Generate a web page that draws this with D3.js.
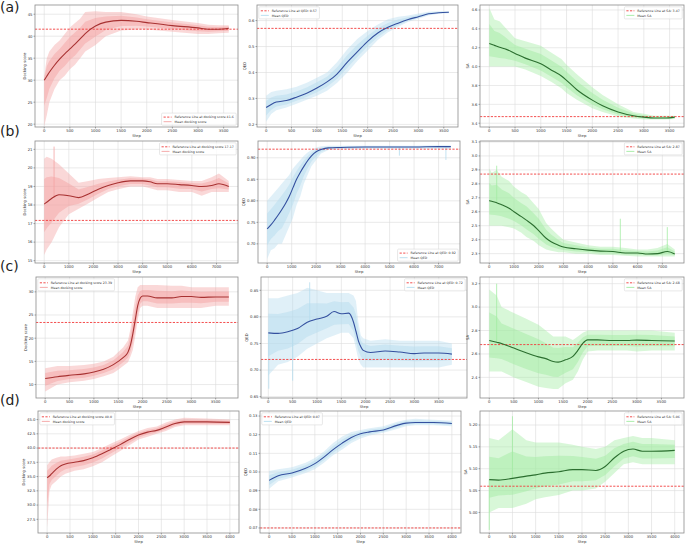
<!DOCTYPE html>
<html><head><meta charset="utf-8">
<script src="https://cdn.jsdelivr.net/npm/d3@7"></script>
<style>body{margin:0;background:#fff}svg{display:block}text{font-family:"DejaVu Sans",sans-serif}</style>
</head><body><svg id="c" width="685" height="546"></svg>
<script>
// ---------------- DATA ----------------
const rowLabels = ["(a)", "(b)", "(c)", "(d)"];
const refDock = [41.6, 17.17, 23.39, 40.0];
const refDockText = ["41.6", "17.17", "23.39", "40.0"];
const refQed = [0.57, 0.92, 0.72, 0.07];
const refQedText = ["0.57", "0.92", "0.72", "0.07"];
const refSa = [3.47, 2.87, 2.68, 5.06];
const refSaText = ["3.47", "2.87", "2.68", "5.06"];

const xTicksA = [0, 500, 1000, 1500, 2000, 2500, 3000, 3500];
const xTicksB = [0, 1000, 2000, 3000, 4000, 5000, 6000, 7000];
const xTicksC = [0, 500, 1000, 1500, 2000, 2500, 3000, 3500];
const xTicksD = [0, 500, 1000, 1500, 2000, 2500, 3000, 3500, 4000];
const xMaxRows = [3600, 7500, 3770, 4000];

// (a) docking
const dockA_step = [0, 50, 100, 200, 300, 400, 500, 600, 700, 800, 1000, 1200, 1500, 1800, 2000, 2500, 3000, 3200, 3400, 3600];
const dockA_mean = [30, 30.9, 31.8, 33.4, 34.8, 36, 37.1, 38.2, 39.4, 40.6, 42.3, 43.2, 43.6, 43.4, 43.1, 42.4, 41.9, 41.6, 41.6, 41.8];
const dockA_lo = [19.5, 22, 25, 28, 30, 31, 32.5, 33.5, 35, 36.5, 38, 40, 41.3, 41.5, 41.5, 41, 40.5, 40.5, 40.7, 40.8];
const dockA_hi = [31, 35, 36.5, 38, 39, 40.5, 42, 43, 44, 45.5, 45.7, 45.5, 45.5, 45, 44.5, 43.7, 43, 42.6, 42.5, 42.5];
const dockA_yt = [20, 25, 30, 35, 40, 45];
// (a) QED
const qedA_step = [0, 100, 200, 400, 600, 800, 1000, 1200, 1400, 1600, 1800, 2000, 2200, 2400, 2600, 2800, 3000, 3200, 3400, 3600];
const qedA_mean = [0.265, 0.277, 0.286, 0.292, 0.305, 0.32, 0.34, 0.364, 0.395, 0.44, 0.48, 0.52, 0.552, 0.574, 0.59, 0.604, 0.615, 0.626, 0.63, 0.632];
const qedA_lo = [0.21, 0.24, 0.255, 0.265, 0.28, 0.295, 0.31, 0.33, 0.36, 0.40, 0.445, 0.485, 0.525, 0.555, 0.575, 0.595, 0.607, 0.62, 0.626, 0.628];
const qedA_hi = [0.31, 0.325, 0.33, 0.335, 0.345, 0.36, 0.38, 0.40, 0.44, 0.49, 0.53, 0.56, 0.585, 0.605, 0.615, 0.62, 0.627, 0.634, 0.636, 0.636];
const qedA_yt = [0.2, 0.3, 0.4, 0.5, 0.6];
// (a) SA
const saA_step = [0, 100, 200, 300, 500, 700, 1000, 1200, 1400, 1500, 1700, 2000, 2200, 2500, 2800, 3000, 3200, 3400, 3600];
const saA_mean = [4.245, 4.225, 4.205, 4.19, 4.14, 4.09, 4.03, 3.965, 3.9, 3.855, 3.755, 3.645, 3.585, 3.52, 3.48, 3.465, 3.455, 3.455, 3.465];
const saA_lo = [4.0, 4.0, 4.0, 4.0, 4.0, 3.97, 3.9, 3.84, 3.77, 3.72, 3.65, 3.56, 3.52, 3.47, 3.45, 3.44, 3.44, 3.44, 3.445];
const saA_hi = [4.62, 4.5, 4.48, 4.42, 4.3, 4.27, 4.22, 4.15, 4.08, 4.02, 3.92, 3.78, 3.70, 3.6, 3.52, 3.5, 3.48, 3.48, 3.48];
const saA_yt = [3.4, 3.6, 3.8, 4.0, 4.2, 4.4, 4.6];

// (b) docking
const dockB_step = [0, 100, 300, 600, 1000, 1400, 1800, 2200, 2600, 3000, 3500, 4000, 4300, 4600, 5000, 5500, 6000, 6400, 6800, 7100, 7500];
const dockB_mean = [18.05, 18.15, 18.35, 18.55, 18.5, 18.4, 18.6, 18.85, 19.05, 19.2, 19.3, 19.3, 19.25, 19.15, 19.15, 19.1, 19.05, 19.0, 19.05, 19.15, 19.0];
const dockB_lo = [15.3, 15.6, 16.0, 16.8, 17.5, 17.8, 18.1, 18.4, 18.7, 18.85, 19.0, 19.0, 18.9, 18.8, 18.8, 18.7, 18.7, 18.5, 18.7, 18.7, 18.7];
const dockB_hi = [20.5, 20.6, 20.5, 20.2, 19.7, 19.2, 19.3, 19.4, 19.45, 19.5, 19.55, 19.5, 19.5, 19.4, 19.4, 19.35, 19.3, 19.3, 19.5, 19.7, 19.3];
const dockB_spikeStep = [400];
const dockB_spikeVal = [21.15];
const dockB_yt = [15, 16, 17, 18, 19, 20, 21];
// (b) QED
const qedB_step = [0, 150, 300, 450, 600, 750, 900, 1050, 1200, 1350, 1500, 1650, 1800, 2000, 2200, 2500, 3000, 4000, 5000, 6000, 7000, 7500];
const qedB_mean = [0.735, 0.744, 0.755, 0.767, 0.78, 0.794, 0.81, 0.83, 0.85, 0.866, 0.88, 0.893, 0.904, 0.914, 0.919, 0.923, 0.924, 0.925, 0.925, 0.925, 0.926, 0.926];
const qedB_lo = [0.665, 0.685, 0.69, 0.70, 0.70, 0.72, 0.74, 0.76, 0.79, 0.81, 0.84, 0.86, 0.88, 0.895, 0.91, 0.918, 0.92, 0.921, 0.921, 0.921, 0.921, 0.921];
const qedB_hi = [0.80, 0.81, 0.82, 0.83, 0.84, 0.85, 0.86, 0.875, 0.885, 0.895, 0.905, 0.912, 0.918, 0.924, 0.927, 0.928, 0.928, 0.928, 0.928, 0.928, 0.929, 0.929];
const qedB_spikeStep = [5400, 7300];
const qedB_spikeVal = [0.905, 0.895];
const qedB_yt = [0.70, 0.75, 0.80, 0.85, 0.90];
// (b) SA
const saB_step = [0, 100, 300, 500, 800, 1000, 1300, 1500, 1800, 2000, 2300, 2500, 2800, 3000, 3500, 4000, 4500, 5000, 5500, 6000, 6400, 6800, 7200, 7500];
const saB_mean = [2.68, 2.675, 2.665, 2.65, 2.625, 2.60, 2.565, 2.54, 2.50, 2.465, 2.41, 2.385, 2.36, 2.347, 2.335, 2.325, 2.318, 2.315, 2.305, 2.305, 2.297, 2.30, 2.315, 2.297];
const saB_lo = [2.5, 2.5, 2.5, 2.5, 2.49, 2.48, 2.45, 2.42, 2.39, 2.36, 2.33, 2.32, 2.31, 2.31, 2.30, 2.30, 2.29, 2.29, 2.285, 2.28, 2.28, 2.28, 2.28, 2.28];
const saB_hi = [2.91, 2.88, 2.90, 2.85, 2.82, 2.78, 2.74, 2.72, 2.66, 2.62, 2.52, 2.48, 2.43, 2.40, 2.38, 2.36, 2.35, 2.35, 2.34, 2.33, 2.33, 2.34, 2.37, 2.33];
const saB_spikeStep = [300, 5300, 7200];
const saB_spikeVal = [2.93, 2.55, 2.49];
const saB_yt = [2.3, 2.4, 2.5, 2.6, 2.7, 2.8, 2.9, 3.0, 3.1];

// (c) docking
const dockC_step = [0, 250, 500, 800, 1000, 1200, 1400, 1500, 1600, 1700, 1750, 1800, 1850, 1900, 1950, 2000, 2100, 2300, 2600, 2800, 3000, 3200, 3500, 3770];
const dockC_mean = [11.3, 11.7, 12.0, 12.3, 12.7, 13.3, 14.3, 15.0, 15.8, 17.0, 18.5, 21.0, 24.0, 27.0, 28.6, 29.1, 29.1, 28.7, 28.7, 29.0, 29.0, 28.8, 28.9, 28.9];
const dockC_lo = [8.5, 10.0, 10.5, 10.8, 11.2, 11.8, 12.5, 13.2, 14.0, 14.8, 16.0, 17.5, 20.5, 24.0, 26.5, 27.0, 27.0, 26.5, 26.5, 26.5, 26.5, 26.5, 27.0, 27.0];
const dockC_hi = [13.5, 14.0, 14.0, 14.2, 14.5, 15.0, 16.0, 17.0, 18.0, 19.5, 22.0, 25.5, 29.0, 31.0, 31.5, 31.5, 31.5, 31.5, 31.3, 31.3, 31.0, 31.0, 31.0, 31.0];
const dockC_yt = [10, 15, 20, 25, 30];
// (c) QED
const qedC_step = [0, 200, 400, 600, 800, 1000, 1200, 1350, 1500, 1650, 1750, 1800, 1850, 1900, 1950, 2100, 2400, 2700, 3000, 3200, 3500, 3770];
const qedC_mean = [0.77, 0.769, 0.772, 0.778, 0.79, 0.796, 0.801, 0.81, 0.806, 0.807, 0.79, 0.773, 0.755, 0.744, 0.737, 0.733, 0.736, 0.734, 0.731, 0.732, 0.732, 0.730];
const qedC_lo = [0.69, 0.71, 0.715, 0.725, 0.74, 0.75, 0.76, 0.765, 0.77, 0.77, 0.76, 0.74, 0.72, 0.71, 0.705, 0.705, 0.705, 0.705, 0.705, 0.705, 0.705, 0.71];
const qedC_hi = [0.835, 0.835, 0.84, 0.845, 0.855, 0.85, 0.845, 0.845, 0.845, 0.845, 0.84, 0.83, 0.79, 0.765, 0.76, 0.755, 0.758, 0.755, 0.755, 0.755, 0.755, 0.75];
const qedC_spikeStep = [10, 500, 850];
const qedC_spikeVal = [0.665, 0.68, 0.865];
const qedC_yt = [0.65, 0.70, 0.75, 0.80, 0.85];
// (c) SA
const saC_step = [0, 150, 250, 500, 750, 1000, 1150, 1300, 1400, 1550, 1700, 1800, 1900, 2000, 2200, 2500, 2800, 3000, 3300, 3770];
const saC_mean = [2.715, 2.70, 2.69, 2.65, 2.61, 2.575, 2.56, 2.535, 2.53, 2.55, 2.58, 2.63, 2.69, 2.72, 2.72, 2.715, 2.715, 2.718, 2.715, 2.71];
const saC_lo = [2.45, 2.45, 2.45, 2.40, 2.36, 2.32, 2.31, 2.30, 2.30, 2.35, 2.38, 2.45, 2.55, 2.62, 2.63, 2.63, 2.63, 2.62, 2.63, 2.63];
const saC_hi = [3.15, 3.1, 3.0, 2.95, 2.9, 2.85, 2.8, 2.75, 2.75, 2.75, 2.72, 2.75, 2.78, 2.8, 2.8, 2.8, 2.8, 2.8, 2.8, 2.78];
const saC_spikeStep = [150];
const saC_spikeVal = [3.2];
const saC_yt = [2.4, 2.6, 2.8, 3.0, 3.2];

// (d) docking
const dockD_step = [0, 50, 100, 200, 300, 400, 600, 800, 1000, 1200, 1400, 1600, 1800, 2000, 2200, 2400, 2600, 2800, 3000, 3500, 4000];
const dockD_mean = [34.8, 35.1, 35.5, 36.3, 36.9, 37.2, 37.5, 37.8, 38.3, 39.0, 39.8, 40.6, 41.5, 42.3, 42.8, 43.1, 43.7, 44.3, 44.6, 44.6, 44.5];
const dockD_lo = [26.0, 32.5, 33.5, 34.2, 35.0, 35.5, 36.0, 36.3, 36.8, 37.5, 38.5, 39.5, 40.5, 41.5, 42.0, 42.5, 43.0, 43.7, 44.0, 44.0, 44.0];
const dockD_hi = [37.0, 37.5, 38.0, 38.3, 38.5, 38.5, 38.7, 39.0, 39.3, 40.0, 40.8, 41.5, 42.3, 43.0, 43.5, 43.8, 44.5, 45.0, 45.3, 45.2, 45.0];
const dockD_yt = [27.5, 30.0, 32.5, 35.0, 37.5, 40.0, 42.5, 45.0];
// (d) QED
const qedD_step = [0, 200, 500, 800, 1000, 1200, 1400, 1600, 1800, 2000, 2200, 2500, 2800, 3000, 3200, 3600, 4000];
const qedD_mean = [0.0955, 0.098, 0.0995, 0.102, 0.1045, 0.108, 0.112, 0.1155, 0.1185, 0.1205, 0.1215, 0.1225, 0.125, 0.1262, 0.1265, 0.1265, 0.126];
const qedD_lo = [0.091, 0.095, 0.097, 0.0995, 0.1015, 0.105, 0.109, 0.112, 0.1155, 0.118, 0.1195, 0.121, 0.123, 0.1245, 0.125, 0.125, 0.1245];
const qedD_hi = [0.1005, 0.1015, 0.1025, 0.105, 0.1075, 0.111, 0.1155, 0.119, 0.1215, 0.1225, 0.1235, 0.1245, 0.127, 0.128, 0.1285, 0.128, 0.1275];
const qedD_yt = [0.07, 0.08, 0.09, 0.10, 0.11, 0.12, 0.13];
// (d) SA
const saD_step = [0, 200, 500, 800, 1000, 1200, 1500, 1800, 2000, 2300, 2500, 2700, 2900, 3100, 3300, 3500, 4000];
const saD_mean = [5.075, 5.074, 5.078, 5.083, 5.086, 5.09, 5.093, 5.098, 5.098, 5.096, 5.105, 5.125, 5.14, 5.145, 5.14, 5.14, 5.142];
const saD_lo = [5.00, 5.01, 5.01, 5.02, 5.03, 5.035, 5.04, 5.05, 5.05, 5.055, 5.07, 5.09, 5.11, 5.115, 5.11, 5.11, 5.11];
const saD_hi = [5.17, 5.165, 5.19, 5.165, 5.16, 5.16, 5.16, 5.155, 5.15, 5.145, 5.15, 5.165, 5.17, 5.175, 5.17, 5.17, 5.165];
const saD_spikeStep = [0, 500];
const saD_spikeVal = [4.96, 5.22];
const saD_yt = [5.00, 5.05, 5.10, 5.15, 5.20];

// ---------------- LAYOUT / STYLE ----------------
const rowTop = [5, 141, 277, 411];
const rowBot = [127, 263, 398, 533];
const colL = [[35, 257, 480], [35, 258, 480], [36, 261, 480], [38, 260, 480]];
const colR = [[238, 458, 684], [238, 460, 684], [238, 467, 684], [239, 461, 684]];
const labelBase = [12, 136, 271, 405];

const metricStyle = {
  dock: { raw: "#f4a3a3", mean: "#a83232", ylab: "Docking score", name: "docking score", colon: "", rawName: "Mean docking score" },
  qed: { raw: "#b5dcee", mean: "#34509f", ylab: "QED", name: "QED:", colon: " ", rawName: "Mean QED" },
  sa: { raw: "#a3eca3", mean: "#2b6e2f", ylab: "SA", name: "SA:", colon: " ", rawName: "Mean SA" }
};

const P = (row, col, m, step, mean, lo, hi, yt, dec, dom, leg, ref, refT, xt, spS, spV, xdom) =>
  ({ row, col, m, step, mean, lo, hi, yt, dec, dom, leg, ref, refT, xt, spS: spS || [], spV: spV || [], xdom });

const panels = [
  P(0, 0, "dock", dockA_step, dockA_mean, dockA_lo, dockA_hi, dockA_yt, 0, [19.35, 47.1], "lr", refDock[0], refDockText[0], xTicksA),
  P(0, 1, "qed", qedA_step, qedA_mean, qedA_lo, qedA_hi, qedA_yt, 1, [0.19, 0.66], "ul", refQed[0], refQedText[0], xTicksA),
  P(0, 2, "sa", saA_step, saA_mean, saA_lo, saA_hi, saA_yt, 1, [3.36, 4.653], "ur", refSa[0], refSaText[0], xTicksA),
  P(1, 0, "dock", dockB_step, dockB_mean, dockB_lo, dockB_hi, dockB_yt, 0, [14.875, 21.45], "ur", refDock[1], refDockText[1], xTicksB, dockB_spikeStep, dockB_spikeVal),
  P(1, 1, "qed", qedB_step, qedB_mean, qedB_lo, qedB_hi, qedB_yt, 2, [0.6555, 0.939], "lr", refQed[1], refQedText[1], xTicksB, qedB_spikeStep, qedB_spikeVal),
  P(1, 2, "sa", saB_step, saB_mean, saB_lo, saB_hi, saB_yt, 1, [2.233, 3.107], "ur", refSa[1], refSaText[1], xTicksB, saB_spikeStep, saB_spikeVal),
  P(2, 0, "dock", dockC_step, dockC_mean, dockC_lo, dockC_hi, dockC_yt, 0, [7.1, 33.2], "ul", refDock[2], refDockText[2], xTicksC),
  P(2, 1, "qed", qedC_step, qedC_mean, qedC_lo, qedC_hi, qedC_yt, 2, [0.6475, 0.875], "ur", refQed[2], refQedText[2], xTicksC, qedC_spikeStep, qedC_spikeVal, [-150, 4080]),
  P(2, 2, "sa", saC_step, saC_mean, saC_lo, saC_hi, saC_yt, 1, [2.224, 3.257], "ur", refSa[2], refSaText[2], xTicksC, saC_spikeStep, saC_spikeVal),
  P(3, 0, "dock", dockD_step, dockD_mean, dockD_lo, dockD_hi, dockD_yt, 1, [25.1, 46.5], "ul", refDock[3], refDockText[3], xTicksD),
  P(3, 1, "qed", qedD_step, qedD_mean, qedD_lo, qedD_hi, qedD_yt, 2, [0.0673, 0.1327], "ul", refQed[3], refQedText[3], xTicksD),
  P(3, 2, "sa", saD_step, saD_mean, saD_lo, saD_hi, saD_yt, 2, [4.953, 5.232], "ur", refSa[3], refSaText[3], xTicksD, saD_spikeStep, saD_spikeVal)
];

const svg = d3.select("#c");
const defs = svg.append("defs");
const FS = 3.8, LFS = 3.2;

panels.forEach((p, i) => {
  const st = metricStyle[p.m];
  const L = colL[p.row][p.col], R = colR[p.row][p.col], T = rowTop[p.row], B = rowBot[p.row];
  const X = xMaxRows[p.row];
  const x = d3.scaleLinear().domain(p.xdom || [-0.05 * X, 1.05 * X]).range([L, R]);
  const y = d3.scaleLinear().domain(p.dom).range([B, T]);
  const g = svg.append("g");
  defs.append("clipPath").attr("id", "cp" + i).append("rect")
    .attr("x", L).attr("y", T).attr("width", R - L).attr("height", B - T);

  // grid
  const grid = g.append("g").attr("stroke", "#dcdcdc").attr("stroke-width", 0.6);
  p.xt.forEach(v => grid.append("line").attr("x1", x(v)).attr("x2", x(v)).attr("y1", T).attr("y2", B));
  p.yt.forEach(v => grid.append("line").attr("y1", y(v)).attr("y2", y(v)).attr("x1", L).attr("x2", R));

  const plot = g.append("g").attr("clip-path", `url(#cp${i})`);
  const data = p.step.map((s, k) => ({ s, m: p.mean[k], lo: p.lo[k], hi: p.hi[k] }));
  // outer envelope of the raw per-step values (light), denser core around the mean
  plot.append("path").datum(data)
    .attr("d", d3.area().x(d => x(d.s)).y0(d => y(d.lo)).y1(d => y(d.hi)))
    .attr("fill", st.raw).attr("fill-opacity", 0.42);
  plot.append("path").datum(data)
    .attr("d", d3.area().x(d => x(d.s)).y0(d => y(d.m + (d.lo - d.m) * 0.55)).y1(d => y(d.m + (d.hi - d.m) * 0.55)))
    .attr("fill", st.raw).attr("fill-opacity", 0.5);
  // spikes
  const meanAt = s => {
    const k = d3.bisector(d => d.s).left(data, s);
    if (k <= 0) return data[0].m;
    if (k >= data.length) return data[data.length - 1].m;
    const a = data[k - 1], b = data[k];
    return a.m + (b.m - a.m) * (s - a.s) / (b.s - a.s);
  };
  p.spS.forEach((s, k) => {
    plot.append("line").attr("x1", x(s)).attr("x2", x(s)).attr("y1", y(meanAt(s))).attr("y2", y(p.spV[k]))
      .attr("stroke", st.raw).attr("stroke-width", 0.8);
  });
  // reference
  plot.append("line").attr("x1", L).attr("x2", R).attr("y1", y(p.ref)).attr("y2", y(p.ref))
    .attr("stroke", "#f23b3b").attr("stroke-width", 0.9).attr("stroke-dasharray", "2.2,1.4");
  // mean
  plot.append("path").datum(data)
    .attr("d", d3.line().x(d => x(d.s)).y(d => y(d.m)).curve(d3.curveMonotoneX))
    .attr("fill", "none").attr("stroke", st.mean).attr("stroke-width", 1.1);

  // frame
  g.append("rect").attr("x", L).attr("y", T).attr("width", R - L).attr("height", B - T)
    .attr("fill", "none").attr("stroke", "#8c8c8c").attr("stroke-width", 0.8);

  // ticks
  const tk = g.append("g").attr("font-size", FS).attr("fill", "#333");
  let maxW = 0;
  p.yt.forEach(v => {
    g.append("line").attr("x1", L - 1.5).attr("x2", L).attr("y1", y(v)).attr("y2", y(v)).attr("stroke", "#555").attr("stroke-width", 0.5);
    const t = tk.append("text").attr("x", L - 2.5).attr("y", y(v) + FS * 0.36).attr("text-anchor", "end").text(v.toFixed(p.dec));
    maxW = Math.max(maxW, t.node().getComputedTextLength());
  });
  p.xt.forEach(v => {
    g.append("line").attr("x1", x(v)).attr("x2", x(v)).attr("y1", B).attr("y2", B + 1.5).attr("stroke", "#555").attr("stroke-width", 0.5);
    tk.append("text").attr("x", x(v)).attr("y", B + 5).attr("text-anchor", "middle").text(v);
  });
  tk.append("text").attr("x", (L + R) / 2).attr("y", B + 9.5).attr("text-anchor", "middle").text("Step");
  tk.append("text").attr("transform", `translate(${L - 2.5 - maxW - 2},${(T + B) / 2}) rotate(-90)`)
    .attr("text-anchor", "middle").text(st.ylab);

  // legend
  const lg = g.append("g");
  const box = lg.append("rect").attr("rx", 1).attr("fill", "rgba(255,255,255,0.8)").attr("stroke", "#d0d0d0").attr("stroke-width", 0.5);
  const items = [
    { t: `Reference Line at ${st.name}${st.colon} ${p.refT}`, c: "#f23b3b", dash: "2.2,1.4" },
    { t: st.rawName, c: st.raw, dash: null }
  ];
  let lw = 0;
  const rowH = 4.6;
  items.forEach((it, k) => {
    const cy = 4 + k * rowH;
    const ln = lg.append("line").attr("x1", 2).attr("x2", 10).attr("y1", cy).attr("y2", cy).attr("stroke", it.c).attr("stroke-width", 0.9);
    if (it.dash) ln.attr("stroke-dasharray", it.dash);
    const t = lg.append("text").attr("x", 13).attr("y", cy + LFS * 0.36).attr("font-size", LFS).attr("fill", "#333").text(it.t);
    lw = Math.max(lw, t.node().getComputedTextLength());
  });
  const bw = 13 + lw + 2.5, bh = 4 + rowH + 3.5;
  box.attr("width", bw).attr("height", bh);
  const pad = 1.8;
  const lx = p.leg.endsWith("l") ? L + pad : R - pad - bw;
  const ly = p.leg.startsWith("u") ? T + pad : B - pad - bh;
  lg.attr("transform", `translate(${lx},${ly})`);
});

// row labels
rowLabels.forEach((t, i) => {
  svg.append("text").attr("x", 0).attr("y", labelBase[i]).attr("font-size", 14)
    .attr("font-family", "'Liberation Sans', Arial, sans-serif").attr("fill", "#222").text(t);
});
</script></body></html>
